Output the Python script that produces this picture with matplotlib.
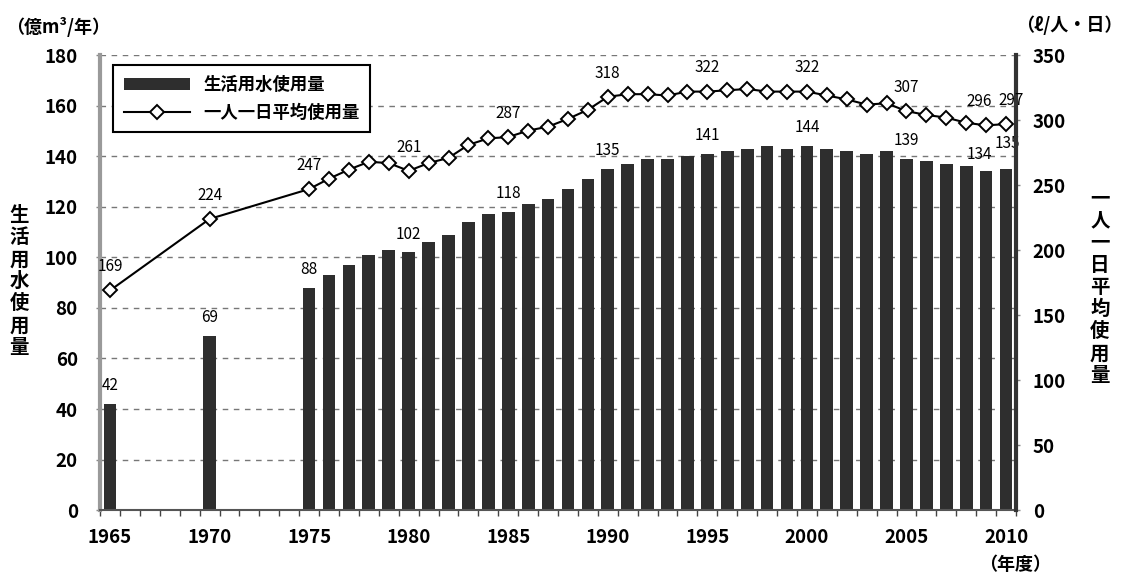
import matplotlib
matplotlib.use('Agg')
import matplotlib.pyplot as plt
import numpy as np
from matplotlib.ticker import MultipleLocator, FixedLocator

plt.rcParams['font.family'] = ['Noto Sans CJK JP', 'DejaVu Sans']

# data
bar_years = [1965, 1970] + list(range(1975, 2011))
bar_values = [42, 69,
              88, 93, 97, 101, 103, 102, 106, 109, 114, 117,
              118, 121, 123, 127, 131, 135, 137, 139, 139, 140,
              141, 142, 143, 144, 143, 144, 143, 142, 141, 142,
              139, 138, 137, 136, 134, 135]
line_years = bar_years
line_values = [169, 224,
               247, 255, 262, 268, 267, 261, 267, 271, 281, 286,
               287, 292, 295, 301, 308, 318, 320, 320, 319, 322,
               322, 323, 324, 322, 322, 322, 319, 316, 312, 313,
               307, 304, 302, 298, 296, 297]
bar_label_years = [1965, 1970, 1975, 1980, 1985, 1990, 1995, 2000, 2005, 2009, 2010]
line_label_years = [1965, 1970, 1975, 1980, 1985, 1990, 1995, 2000, 2005, 2009, 2010]
year_ticks = list(range(1965, 2011, 5))

# label nudges (points) for the crowded right end
bar_nudge = {2009: (-5, 6), 2010: (1, 12)}
line_nudge = {2009: (-5, 11), 2010: (4, 11)}

fig = plt.figure(figsize=(11.28, 5.81), dpi=100)
ax = fig.add_axes([0.0887, 0.122, 0.812, 0.783])
ax2 = ax.twinx()

bars = ax.bar(bar_years, bar_values, width=0.64, color='#2e2e2e', zorder=2,
              label='生活用水使用量')
ln, = ax2.plot(line_years, line_values, color='black', lw=1.5, marker='D',
               markersize=7, markerfacecolor='white', markeredgecolor='black',
               markeredgewidth=1.4, zorder=3, label='一人一日平均使用量')

ax.set_xlim(1964.5, 2010.5)
ax.set_ylim(0, 180)
ax2.set_ylim(0, 350)
ax.yaxis.set_major_locator(MultipleLocator(20))
ax2.yaxis.set_major_locator(MultipleLocator(50))
ax.grid(axis='y', linestyle=(0, (4, 4)), color='#777777', lw=1.0, zorder=0)
ax.set_axisbelow(True)

ax.xaxis.set_major_locator(FixedLocator(year_ticks))
ax.xaxis.set_minor_locator(FixedLocator(np.arange(1964.5, 2011, 1.0)))
ax.tick_params(axis='x', which='major', length=0, pad=13)
ax.tick_params(axis='x', which='minor', length=4, width=1, color='#444444')
ax.tick_params(axis='y', length=3, width=1, color='#888888', pad=13)
ax2.tick_params(axis='y', length=3, width=1, color='#888888', pad=9)

for a in (ax, ax2):
    for lab in a.get_xticklabels() + a.get_yticklabels():
        lab.set_fontsize(13.5)
        lab.set_fontweight('bold')

for a in (ax, ax2):
    a.spines['top'].set_visible(False)
ax.spines['left'].set_color('#9a9a9a')
ax.spines['left'].set_linewidth(3)
ax.spines['right'].set_visible(False)
ax2.spines['left'].set_visible(False)
ax2.spines['bottom'].set_visible(False)
ax2.spines['right'].set_color('#333333')
ax2.spines['right'].set_linewidth(3)
ax.spines['bottom'].set_color('#555555')
ax.spines['bottom'].set_linewidth(1.5)

# data labels
for yr, v in zip(bar_years, bar_values):
    if yr in bar_label_years:
        ax.annotate(str(v), (yr, v), xytext=bar_nudge.get(yr, (0, 7)),
                    textcoords='offset points', ha='center', va='bottom',
                    fontsize=11)
for yr, v in zip(line_years, line_values):
    if yr in line_label_years:
        ax2.annotate(str(v), (yr, v), xytext=line_nudge.get(yr, (0, 11)),
                     textcoords='offset points', ha='center', va='bottom',
                     fontsize=11)

leg = ax2.legend([bars, ln], ['生活用水使用量', '一人一日平均使用量'],
                 loc='upper left', bbox_to_anchor=(0.005, 0.997),
                 fancybox=False, edgecolor='black', framealpha=1,
                 handlelength=3.8, borderpad=0.6, labelspacing=0.6,
                 prop={'size': 12.5, 'weight': 'bold'})
leg.get_frame().set_linewidth(1.5)

# axis titles
fig.text(0.005, 0.953, '（億m³/年）', fontsize=13, fontweight='bold', va='center')
fig.text(0.995, 0.956, '（ℓ/人・日）', fontsize=13, fontweight='bold',
         va='center', ha='right')
fig.text(0.868, 0.028, '（年度）', fontsize=13, fontweight='bold', va='center')
fig.text(0.017, 0.515, '\n'.join('生活用水使用量'), fontsize=14, fontweight='bold',
         ha='center', va='center', linespacing=1.2)
fig.text(0.975, 0.505, '\n'.join('一人一日平均使用量'), fontsize=14, fontweight='bold',
         ha='center', va='center', linespacing=1.2)

fig.savefig('out.png', dpi=100)
